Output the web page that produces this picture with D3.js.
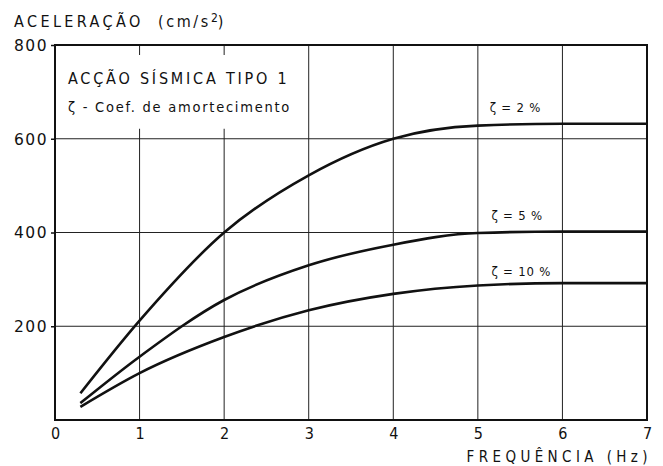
<!DOCTYPE html>
<html><head><meta charset="utf-8">
<script src="https://cdn.jsdelivr.net/npm/d3@7"></script>
<style>body{margin:0;background:#fff}svg{display:block}text{font-family:"DejaVu Sans Condensed","DejaVu Sans",sans-serif;fill:#111}</style>
</head><body>
<script>
const freq = [0.3, 1, 2, 3, 4, 5, 6, 7];
const zeta2 = [57, 212, 400, 522, 600, 628, 632, 632];
const zeta5 = [36, 135, 256, 330, 374, 399, 402, 402];
const zeta10 = [28, 100, 177, 234, 269, 287, 292, 292];
const seriesLabels = ["ζ = 2 %", "ζ = 5 %", "ζ = 10 %"];
const xTicks = [0, 1, 2, 3, 4, 5, 6, 7];
const yTicks = [200, 400, 600, 800];

const W = 663, H = 466;
const svg = d3.select("body").append("svg").attr("width", W).attr("height", H);
const x = d3.scaleLinear().domain([0, 7]).range([55, 647]);
const y = d3.scaleLinear().domain([0, 800]).range([420, 45]);

// grid
const g = svg.append("g");
g.selectAll(".hg").data([200, 400, 600]).enter().append("line")
  .attr("x1", x(0)).attr("x2", x(7)).attr("y1", d => y(d)).attr("y2", d => y(d))
  .attr("stroke", "#222").attr("stroke-width", 1);
g.selectAll(".vg").data([1, 2, 3, 4, 5, 6]).enter().append("line")
  .attr("y1", y(0)).attr("y2", y(800)).attr("x1", d => x(d)).attr("x2", d => x(d))
  .attr("stroke", "#222").attr("stroke-width", 1);

// legend box (white area interrupting grid)
svg.append("rect").attr("x", x(0) + 2).attr("y", y(800) + 10)
  .attr("width", x(3) - x(0) - 3).attr("height", y(600) - y(800) - 20).attr("fill", "#fff");

// frame
svg.append("rect").attr("x", x(0)).attr("y", y(800)).attr("width", x(7) - x(0)).attr("height", y(0) - y(800))
  .attr("fill", "none").attr("stroke", "#111").attr("stroke-width", 2);

// y axis
const yAxis = d3.axisLeft(y).tickValues(yTicks).tickSize(4).tickPadding(3).tickFormat(d3.format("d"));
const ya = svg.append("g").attr("transform", `translate(${x(0)},0)`).call(yAxis);
ya.select(".domain").remove();
ya.selectAll("text").style("font-size", "15.5px").attr("dy", "0.35em").style("letter-spacing", "1.5px")
  .style("font-family", "DejaVu Sans");
ya.selectAll("line").attr("stroke", "#111").attr("stroke-width", 1.5);

// x axis
const xAxis = d3.axisBottom(x).tickValues(xTicks).tickSize(0).tickPadding(8).tickFormat(d3.format("d"));
const xa = svg.append("g").attr("transform", `translate(0,${y(0)})`).call(xAxis);
xa.select(".domain").remove();
xa.selectAll("text").style("font-size", "16px").attr("dy", "0.71em");

// curves
const line = d3.line().x(d => x(d[0])).y(d => y(d[1])).curve(d3.curveMonotoneX);
[zeta2, zeta5, zeta10].forEach(s => {
  svg.append("path").datum(freq.map((f, i) => [f, s[i]])).attr("d", line)
    .attr("fill", "none").attr("stroke", "#111").attr("stroke-width", 2.6);
});

// curve labels
const labelPos = [[5.14, 657], [5.16, 427], [5.16, 307]];
seriesLabels.forEach((t, i) => {
  svg.append("text").attr("x", x(labelPos[i][0])).attr("y", y(labelPos[i][1]))
    .style("font-size", "13px").style("letter-spacing", "0.8px").text(t);
});

// legend texts
svg.append("text").attr("x", 68).attr("y", 84).style("font-size", "16px").style("letter-spacing", "2.8px")
  .text("ACÇÃO SÍSMICA TIPO 1");
svg.append("text").attr("x", 68).attr("y", 112).style("font-size", "14.5px").style("letter-spacing", "1.75px")
  .text("ζ - Coef. de amortecimento");

// axis titles
const yt = svg.append("text").attr("y", 27).style("font-size", "16px");
yt.append("tspan").attr("x", 14).style("letter-spacing", "3.4px").text("ACELERAÇÃO");
yt.append("tspan").attr("x", 158).style("letter-spacing", "2.6px").text("(cm/s");
yt.append("tspan").attr("dy", -5).style("font-size", "12px").text("2");
yt.append("tspan").attr("dy", 5).text(")");
svg.append("text").attr("x", 652).attr("y", 462).attr("text-anchor", "end").style("font-size", "15px")
  .style("letter-spacing", "4.4px").text("FREQUÊNCIA  (Hz)");
</script>
</body></html>
